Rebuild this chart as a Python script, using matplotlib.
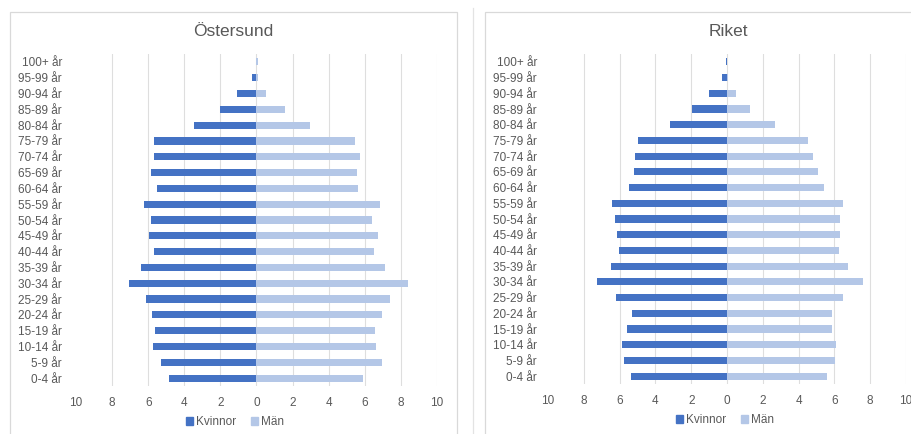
import matplotlib
matplotlib.use("Agg")
import matplotlib.pyplot as plt
from matplotlib.patches import Rectangle, Patch
from matplotlib.lines import Line2D
from matplotlib.ticker import FixedLocator, FuncFormatter

plt.rcParams['font.family'] = ['Liberation Sans', 'DejaVu Sans']

age_groups = ["0-4 år", "5-9 år", "10-14 år", "15-19 år", "20-24 år", "25-29 år",
              "30-34 år", "35-39 år", "40-44 år", "45-49 år", "50-54 år", "55-59 år",
              "60-64 år", "65-69 år", "70-74 år", "75-79 år", "80-84 år", "85-89 år",
              "90-94 år", "95-99 år", "100+ år"]

# Share of population (%) per age group
ostersund_kvinnor = [4.85, 5.28, 5.72, 5.61, 5.78, 6.10, 7.08, 6.41, 5.67, 5.95, 5.82,
                     6.26, 5.50, 5.82, 5.67, 5.67, 3.49, 2.03, 1.08, 0.26, 0.05]
ostersund_man = [5.89, 6.93, 6.60, 6.54, 6.93, 7.42, 8.38, 7.14, 6.51, 6.71, 6.39,
                 6.82, 5.65, 5.58, 5.74, 5.46, 2.99, 1.58, 0.54, 0.11, 0.06]
riket_kvinnor = [5.35, 5.78, 5.86, 5.60, 5.28, 6.19, 7.26, 6.46, 6.04, 6.12, 6.25,
                 6.42, 5.47, 5.22, 5.13, 4.96, 3.19, 1.96, 1.03, 0.30, 0.06]
riket_man = [5.60, 6.01, 6.10, 5.86, 5.86, 6.46, 7.57, 6.75, 6.25, 6.29, 6.32,
             6.49, 5.43, 5.11, 4.79, 4.50, 2.69, 1.31, 0.50, 0.06, 0.02]

x_ticks = [-10, -8, -6, -4, -2, 0, 2, 4, 6, 8, 10]
grid_ticks = [-8, -6, -4, -2, 0, 2, 4, 6, 8, 10]

C_KV = "#4472C4"
C_MAN = "#B4C7E7"
TXT = "#595959"
GRID = "#DEDEDE"

W, H = 912, 434
fig = plt.figure(figsize=(W / 100, H / 100), dpi=100)
fig.patch.set_facecolor("white")


def fx(px):
    return px / W


def fy(py):
    return 1 - py / H


# Chart frames and separator
fig.add_artist(Rectangle((fx(10), fy(440)), fx(457 - 10), (440 - 12) / H,
                         transform=fig.transFigure, fill=False, edgecolor="#D9D9D9", lw=0.9))
fig.add_artist(Rectangle((fx(485), fy(440)), fx(980 - 485), (440 - 12) / H,
                         transform=fig.transFigure, fill=False, edgecolor="#D9D9D9", lw=0.9))
fig.add_artist(Line2D([fx(473), fx(473)], [fy(8), fy(440)], transform=fig.transFigure,
                      color="#E3E3E3", lw=0.9))


def pyramid(rect, kv, man, title, title_x, legend_x, legend_y, ypad):
    ax = fig.add_axes(rect)
    y = list(range(len(age_groups)))
    ax.barh(y, [-v for v in kv], height=0.45, color=C_KV, zorder=3)
    ax.barh(y, man, height=0.45, color=C_MAN, zorder=3)
    ax.set_xlim(-10, 10)
    ax.set_ylim(-0.5, len(age_groups) - 0.5)
    ax.set_yticks(y)
    ax.set_yticklabels(age_groups)
    ax.xaxis.set_major_locator(FixedLocator(x_ticks))
    ax.xaxis.set_major_formatter(FuncFormatter(lambda v, p: f"{abs(int(round(v)))}"))
    for g in grid_ticks:
        ax.axvline(g, color=GRID, lw=0.8, zorder=1)
    for s in ax.spines.values():
        s.set_visible(False)
    ax.tick_params(axis="both", length=0, labelsize=8.5, labelcolor=TXT)
    ax.tick_params(axis="y", pad=ypad)
    ax.tick_params(axis="x", pad=8)
    fig.text(title_x, fy(31), title, ha="center", va="center", fontsize=12.5, color=TXT)
    handles = [Patch(color=C_KV, label="Kvinnor"), Patch(color=C_MAN, label="Män")]
    fig.legend(handles=handles, loc="center", bbox_to_anchor=(legend_x, legend_y),
               ncol=2, frameon=False, fontsize=8.5, labelcolor=TXT,
               handlelength=0.6, handleheight=0.6, handletextpad=0.3, columnspacing=1.2)
    return ax


pyramid([fx(76), fy(386), fx(437 - 76), (386 - 54) / H], ostersund_kvinnor, ostersund_man,
        "Östersund", fx(233), fx(235), fy(422), 10)
pyramid([fx(548), fy(384), fx(906 - 548), (384 - 54) / H], riket_kvinnor, riket_man,
        "Riket", fx(728), fx(725), fy(420), 8)

fig.savefig("out.png", dpi=100, facecolor="white")
